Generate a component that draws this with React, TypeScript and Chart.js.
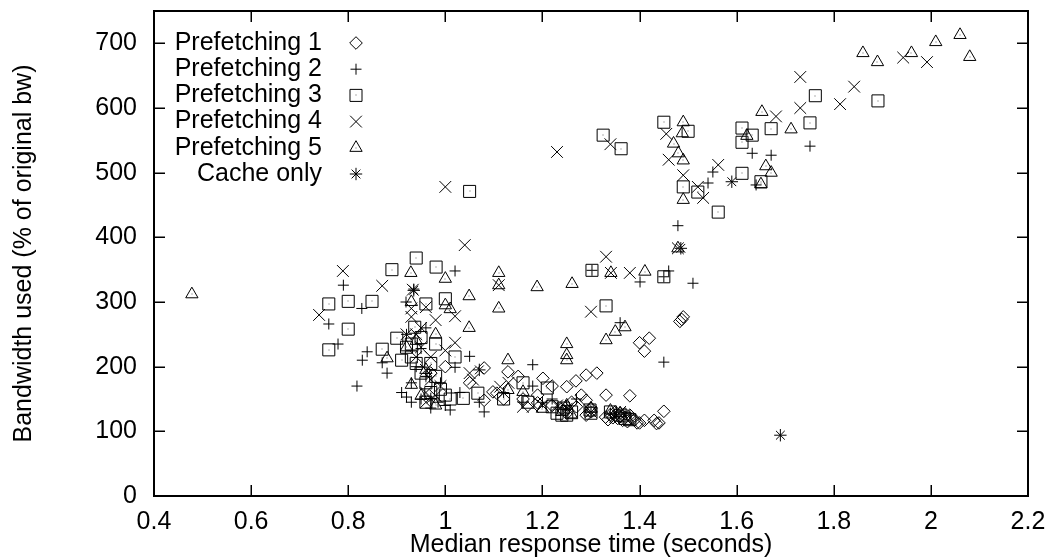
import React, { useEffect, useRef } from "react";
import { Chart, registerables } from "chart.js";

Chart.register(...registerables);

// Axis tick values
const xTicks = [0.4, 0.6, 0.8, 1.0, 1.2, 1.4, 1.6, 1.8, 2.0, 2.2];
const yTicks = [0, 100, 200, 300, 400, 500, 600, 700];

const seriesNames = [
  "Prefetching 1",
  "Prefetching 2",
  "Prefetching 3",
  "Prefetching 4",
  "Prefetching 5",
  "Cache only",
];

// [median response time (s), bandwidth used (% of original)]
const prefetching1: [number, number][] = [
  [0.97, 190], [1.0, 200], [1.05, 175], [1.08, 198], [1.08, 148], [1.106, 159], [1.098, 161],
  [1.129, 192], [1.15, 185], [1.19, 156], [1.19, 144], [1.201, 182], [1.22, 170], [1.25, 169],
  [1.269, 178], [1.29, 187], [1.312, 190], [1.28, 156], [1.29, 148], [1.3, 136], [1.331, 156],
  [1.38, 155], [1.4, 237], [1.42, 244], [1.41, 224], [1.483, 270], [1.49, 277], [1.487, 273],
  [1.45, 131], [1.22, 140], [1.24, 135], [1.25, 128], [1.27, 138], [1.26, 145], [1.29, 125],
  [1.3, 130], [1.33, 122], [1.335, 118], [1.34, 126], [1.35, 125], [1.355, 120], [1.36, 128],
  [1.365, 117], [1.37, 122], [1.375, 115], [1.38, 125], [1.385, 119], [1.39, 118], [1.395, 113],
  [1.4, 113], [1.41, 117], [1.43, 117], [1.44, 113], [1.435, 112], [1.12, 150], [1.16, 150],
  [1.35, 130], [1.37, 127], [1.345, 121], [1.36, 123],
];

const prefetching2: [number, number][] = [
  [0.76, 266], [0.779, 235], [0.79, 326], [0.818, 170], [0.828, 290], [0.829, 210], [0.839, 223],
  [0.87, 206], [0.88, 190], [0.919, 300], [0.92, 153], [0.91, 160], [0.93, 175], [0.92, 250],
  [0.935, 320], [0.94, 200], [0.95, 228], [0.96, 185], [0.97, 136], [0.985, 145], [1.0, 140],
  [1.01, 133], [1.02, 199], [1.02, 348], [1.05, 216], [1.07, 145], [1.08, 130], [1.12, 160],
  [1.16, 145], [1.18, 203], [1.18, 170], [1.2, 145], [1.22, 150], [1.25, 140], [1.27, 150],
  [1.3, 130], [1.302, 349], [1.34, 128], [1.36, 268], [1.38, 125], [1.401, 331], [1.45, 207],
  [1.45, 339], [1.46, 348], [1.479, 418], [1.51, 329], [1.541, 484], [1.551, 501], [1.632, 530],
  [1.64, 481], [1.671, 527], [1.751, 541], [0.96, 260], [0.99, 175], [1.03, 160],
  [0.93, 145], [0.95, 150],
];

const prefetching3: [number, number][] = [
  [0.76, 297], [0.76, 226], [0.8, 301], [0.8, 258], [0.849, 301], [0.87, 227], [0.89, 350],
  [0.9, 244], [0.91, 210], [0.92, 230], [0.93, 215], [0.937, 261], [0.94, 368], [0.94, 205],
  [0.95, 190], [0.95, 245], [0.96, 297], [0.96, 175], [0.96, 145], [0.97, 160], [0.98, 235],
  [0.981, 354], [0.99, 165], [1.0, 305], [1.0, 156], [1.01, 150], [1.02, 215], [1.037, 151],
  [1.05, 471], [1.067, 159], [1.12, 150], [1.16, 175], [1.17, 145], [1.21, 167], [1.22, 138],
  [1.23, 128], [1.243, 136], [1.25, 125], [1.26, 130], [1.298, 133], [1.3, 128], [1.302, 349],
  [1.331, 294], [1.36, 125], [1.37, 120], [1.325, 558], [1.362, 537], [1.45, 578], [1.45, 339],
  [1.49, 478], [1.5, 564], [1.52, 470], [1.562, 439], [1.611, 569], [1.611, 547], [1.611, 499],
  [1.632, 558], [1.65, 486], [1.671, 568], [1.751, 577], [1.762, 619], [1.891, 611],
  [0.93, 235], [0.97, 205], [0.98, 185], [1.34, 130], [1.38, 118], [1.24, 125],
];

const prefetching4: [number, number][] = [
  [0.74, 280], [0.789, 348], [0.87, 325], [0.92, 250], [0.93, 290], [0.93, 277], [0.933, 319],
  [0.94, 215], [0.95, 230], [0.95, 260], [0.96, 292], [0.96, 195], [0.96, 145], [0.96, 160],
  [0.97, 180], [0.98, 272], [0.99, 170], [1.0, 225], [1.0, 478], [1.02, 278], [1.02, 237],
  [1.04, 388], [1.05, 190], [1.057, 180], [1.11, 326], [1.113, 169], [1.13, 175], [1.16, 138],
  [1.18, 138], [1.2, 140], [1.23, 532], [1.25, 135], [1.3, 285], [1.3, 130], [1.331, 370],
  [1.34, 544], [1.341, 345], [1.36, 130], [1.38, 345], [1.455, 560], [1.46, 520], [1.479, 383],
  [1.49, 496], [1.52, 478], [1.531, 461], [1.562, 512], [1.681, 587], [1.731, 600], [1.731, 648],
  [1.813, 606], [1.842, 633], [1.943, 678], [1.992, 671],
  [0.94, 250], [0.97, 215], [0.98, 155], [1.35, 122], [1.23, 140],
];

const prefetching5: [number, number][] = [
  [0.478, 312], [0.88, 213], [0.929, 345], [0.93, 172], [0.93, 300], [0.94, 240], [0.95, 155],
  [0.96, 195], [0.98, 250], [0.98, 140], [1.0, 336], [1.0, 295], [1.01, 289], [1.049, 309],
  [1.049, 260], [1.11, 345], [1.11, 326], [1.11, 290], [1.129, 210], [1.129, 164], [1.16, 161],
  [1.189, 323], [1.2, 135], [1.24, 130], [1.25, 235], [1.25, 218], [1.25, 210], [1.25, 140],
  [1.261, 328], [1.3, 135], [1.331, 241], [1.341, 345], [1.35, 254], [1.36, 128], [1.37, 261],
  [1.411, 347], [1.47, 545], [1.479, 383], [1.48, 530], [1.488, 561], [1.49, 458], [1.49, 519],
  [1.49, 578], [1.621, 557], [1.65, 482], [1.652, 594], [1.66, 510], [1.671, 500], [1.712, 567],
  [1.86, 685], [1.89, 671], [1.96, 685], [2.01, 702], [2.06, 713], [2.08, 679],
  [0.92, 230], [1.34, 132], [1.26, 125],
];

const cacheOnly: [number, number][] = [
  [1.485, 383], [1.59, 486], [1.69, 94], [0.935, 318], [1.07, 195], [0.97, 150],
];

const seriesData = [prefetching1, prefetching2, prefetching3, prefetching4, prefetching5, cacheOnly];

const pointStyles = ["rectRot", "cross", "rect", "crossRot", "triangle", "star"] as const;
const pointRadii = [6.3, 5.5, 8.5, 8.3, 7.1, 6.2];
const dottedSeries = [2, 4];

const FONT = "'Liberation Sans', Arial, Helvetica, sans-serif";
const FONT_SIZE = 25;

function drawSymbol(ctx: CanvasRenderingContext2D, style: string, x: number, y: number, r: number) {
  const d = r * Math.SQRT1_2;
  ctx.beginPath();
  switch (style) {
    case "rectRot":
      ctx.moveTo(x - r, y);
      ctx.lineTo(x, y - r);
      ctx.lineTo(x + r, y);
      ctx.lineTo(x, y + r);
      ctx.closePath();
      break;
    case "cross":
      ctx.moveTo(x, y - r);
      ctx.lineTo(x, y + r);
      ctx.moveTo(x - r, y);
      ctx.lineTo(x + r, y);
      break;
    case "rect":
      ctx.rect(x - d, y - d, 2 * d, 2 * d);
      break;
    case "crossRot":
      ctx.moveTo(x - d, y - d);
      ctx.lineTo(x + d, y + d);
      ctx.moveTo(x - d, y + d);
      ctx.lineTo(x + d, y - d);
      break;
    case "triangle":
      ctx.moveTo(x, y - r);
      ctx.lineTo(x + 0.866 * r, y + 0.5 * r);
      ctx.lineTo(x - 0.866 * r, y + 0.5 * r);
      ctx.closePath();
      break;
    case "star":
      ctx.moveTo(x, y - r);
      ctx.lineTo(x, y + r);
      ctx.moveTo(x - r, y);
      ctx.lineTo(x + r, y);
      ctx.moveTo(x - d, y - d);
      ctx.lineTo(x + d, y + d);
      ctx.moveTo(x - d, y + d);
      ctx.lineTo(x + d, y - d);
      break;
  }
  ctx.stroke();
}

// Small dot in the middle of square and triangle markers
const centerDots = {
  id: "centerDots",
  afterDatasetsDraw(chart: any) {
    const ctx = chart.ctx as CanvasRenderingContext2D;
    ctx.save();
    ctx.fillStyle = "#666";
    dottedSeries.forEach((i) => {
      chart.getDatasetMeta(i).data.forEach((el: any) => {
        ctx.fillRect(Math.round(el.x) - 0.5, Math.round(el.y) - 0.5, 1, 1);
      });
    });
    ctx.restore();
  },
};

// Box frame with inward ticks on all four sides
const frameTicks = {
  id: "frameTicks",
  afterDraw(chart: any) {
    const ctx = chart.ctx as CanvasRenderingContext2D;
    const { left, right, top, bottom } = chart.chartArea;
    const xs = chart.scales.x;
    const ys = chart.scales.y;
    const len = 11;
    ctx.save();
    ctx.strokeStyle = "#000";
    ctx.lineWidth = 1.5;
    ctx.beginPath();
    xTicks.forEach((v) => {
      const px = Math.round(xs.getPixelForValue(v)) + 0.25;
      ctx.moveTo(px, bottom);
      ctx.lineTo(px, bottom - len);
      ctx.moveTo(px, top);
      ctx.lineTo(px, top + len);
    });
    yTicks.forEach((v) => {
      const py = Math.round(ys.getPixelForValue(v)) + 0.25;
      ctx.moveTo(left, py);
      ctx.lineTo(left + len, py);
      ctx.moveTo(right, py);
      ctx.lineTo(right - len, py);
    });
    ctx.stroke();
    ctx.lineWidth = 2;
    ctx.strokeRect(left, top, right - left, bottom - top);
    ctx.restore();
  },
};

// Key in the upper-left corner: right-aligned label, marker to its right
const keyBox = {
  id: "keyBox",
  afterDraw(chart: any) {
    const ctx = chart.ctx as CanvasRenderingContext2D;
    const { left, top } = chart.chartArea;
    const textRight = left + 168;
    const symX = left + 202;
    const row0 = top + 32;
    const rowH = 26.2;
    ctx.save();
    ctx.font = `${FONT_SIZE}px ${FONT}`;
    ctx.fillStyle = "#000";
    ctx.textAlign = "right";
    ctx.textBaseline = "middle";
    ctx.strokeStyle = "#000";
    ctx.lineWidth = 1;
    seriesNames.forEach((name, i) => {
      const y = row0 + i * rowH;
      ctx.fillText(name, textRight, y);
      drawSymbol(ctx, pointStyles[i], symX, y, pointRadii[i]);
      if (dottedSeries.includes(i)) {
        ctx.fillStyle = "#666";
        ctx.fillRect(Math.round(symX) - 0.5, Math.round(y) - 0.5, 1, 1);
        ctx.fillStyle = "#000";
      }
    });
    ctx.restore();
  },
};

export default function App() {
  const canvasRef = useRef<HTMLCanvasElement | null>(null);

  useEffect(() => {
    document.body.style.margin = "0";
    const canvas = canvasRef.current;
    if (!canvas) return;

    const datasets = seriesData.map((pts, i) => ({
      label: seriesNames[i],
      data: pts.map(([x, y]) => ({ x, y })),
      pointStyle: pointStyles[i],
      pointRadius: pointRadii[i],
      pointHoverRadius: pointRadii[i],
      borderColor: "#000",
      backgroundColor: "rgba(0,0,0,0)",
      pointBorderWidth: 1,
      borderWidth: 1,
      showLine: false,
    }));

    const tickFont = { family: FONT, size: FONT_SIZE };

    const chart = new Chart(canvas, {
      type: "scatter",
      data: { datasets },
      options: {
        responsive: false,
        animation: false,
        devicePixelRatio: 1,
        layout: { padding: { top: 11, right: 19, left: 0, bottom: 0 } },
        plugins: {
          legend: { display: false },
          tooltip: { enabled: false },
        },
        scales: {
          x: {
            type: "linear",
            min: 0.4,
            max: 2.2,
            grid: { display: false, drawTicks: false },
            border: { display: false },
            afterBuildTicks: (scale: any) => {
              scale.ticks = xTicks.map((value) => ({ value }));
            },
            afterFit: (scale: any) => {
              scale.height = 64;
              scale.paddingLeft = 0;
              scale.paddingRight = 0;
              scale.paddingTop = 0;
              scale.paddingBottom = 0;
            },
            ticks: {
              color: "#000",
              font: tickFont,
              padding: 11,
              maxRotation: 0,
              autoSkip: false,
              callback: (v: any) => String(v),
            },
            title: {
              display: true,
              text: "Median response time (seconds)",
              color: "#000",
              font: tickFont,
              padding: { top: 0, bottom: 0 },
            },
          },
          y: {
            type: "linear",
            min: 0,
            max: 750,
            grid: { display: false, drawTicks: false },
            border: { display: false },
            afterBuildTicks: (scale: any) => {
              scale.ticks = yTicks.map((value) => ({ value }));
            },
            afterFit: (scale: any) => {
              scale.width = 154;
              scale.paddingLeft = 0;
              scale.paddingRight = 0;
              scale.paddingTop = 0;
              scale.paddingBottom = 0;
            },
            ticks: {
              color: "#000",
              font: tickFont,
              padding: 17,
              autoSkip: false,
              callback: (v: any) => String(v),
            },
            title: {
              display: true,
              text: "Bandwidth used (% of original bw)",
              color: "#000",
              font: tickFont,
              padding: { top: 9, bottom: 0 },
            },
          },
        },
      },
      plugins: [centerDots, frameTicks, keyBox],
    } as any);

    return () => chart.destroy();
  }, []);

  return (
    <div style={{ position: "absolute", left: 0, top: 0, width: 1047, height: 560, background: "#fff" }}>
      <canvas ref={canvasRef} width={1047} height={560} style={{ display: "block" }} />
    </div>
  );
}
